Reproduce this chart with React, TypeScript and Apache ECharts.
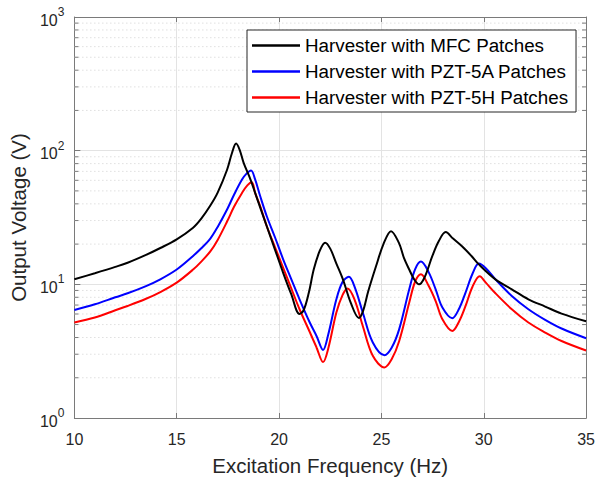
import React, { useEffect, useRef } from "react";
import * as echarts from "echarts";

const seriesNames = [
  "Harvester with MFC Patches",
  "Harvester with PZT-5A Patches",
  "Harvester with PZT-5H Patches",
];

const xTicks = [10, 15, 20, 25, 30, 35];
const minorGridValues = [2, 3, 4, 5, 6, 7, 8, 9, 20, 30, 40, 50, 60, 70, 80, 90, 200, 300, 400, 500, 600, 700, 800, 900];

const mfcFreq = [10, 11, 12, 12.6, 13.5, 14.2, 15, 15.8, 16.2, 16.65, 17.0, 17.46, 17.7, 17.9, 18.07, 18.27, 18.6, 19.0, 19.4, 19.8, 20.2, 20.6, 21.0, 21.2, 21.45, 21.7, 22.0, 22.25, 22.5, 22.8, 23.12, 23.5, 23.9, 24.1, 24.35, 24.74, 25.1, 25.47, 25.85, 26.1, 26.36, 26.6, 26.84, 27.1, 27.49, 27.8, 28.14, 28.5, 28.95, 29.4, 29.76, 30.57, 31.37, 32.18, 33.0, 33.8, 35];
const mfcVolt = [10.9, 12.1, 13.5, 14.5, 16.6, 18.7, 21.7, 26.5, 31, 39, 48.5, 72, 96, 113, 102, 81, 61, 40.7, 27.2, 18.2, 12.2, 8.4, 6.0, 6.4, 8.6, 13, 18, 20.5, 18.5, 14.3, 10.9, 7.3, 5.6, 6.3, 8.8, 13.7, 20, 25, 20.5, 15.8, 12.9, 10.9, 10, 11.2, 16.3, 21, 24.6, 22.0, 19.2, 16.3, 14.1, 10.9, 9.18, 7.73, 6.82, 6.04, 5.3];

const pzt5aFreq = [10, 11, 12, 12.6, 13.5, 14.2, 15, 15.8, 16.2, 16.65, 17.0, 17.46, 17.8, 18.19, 18.4, 18.63, 18.83, 19.08, 19.4, 19.8, 20.2, 20.6, 21.0, 21.5, 21.83, 22.15, 22.4, 22.8, 23.1, 23.41, 23.7, 24.09, 24.58, 25.15, 25.5, 25.87, 26.36, 26.65, 26.93, 27.3, 27.65, 27.98, 28.46, 28.8, 29.11, 29.45, 29.76, 30.1, 30.57, 31.37, 32.18, 33.0, 33.8, 35];
const pzt5aVolt = [6.43, 7.09, 8.0, 8.57, 9.7, 10.9, 12.9, 16.3, 18.6, 22.1, 26.9, 36.3, 46.8, 60.8, 67, 71, 61, 45.6, 32.3, 22.5, 15.4, 10.9, 7.73, 5.18, 4.11, 3.23, 4.2, 7.73, 10.4, 11.4, 9.5, 6.15, 3.67, 2.95, 3.35, 4.62, 9.18, 13, 14.8, 12.4, 9.18, 6.7, 5.58, 6.6, 8.67, 12, 14.3, 13.2, 10.9, 8.18, 6.51, 5.42, 4.67, 3.95];

const pzt5hFreq = [10, 11, 12, 12.6, 13.5, 14.2, 15, 15.8, 16.2, 16.65, 17.0, 17.46, 17.8, 18.19, 18.45, 18.67, 18.83, 19.08, 19.4, 19.8, 20.2, 20.6, 21.0, 21.5, 21.83, 22.15, 22.4, 22.8, 23.1, 23.35, 23.7, 24.09, 24.58, 25.15, 25.5, 25.87, 26.36, 26.65, 26.93, 27.3, 27.65, 27.98, 28.46, 28.8, 29.11, 29.45, 29.8, 30.1, 30.57, 31.37, 32.18, 33.0, 33.8, 35];
const pzt5hVolt = [5.18, 5.64, 6.4, 6.89, 7.8, 8.76, 10.3, 12.9, 14.8, 17.7, 21.5, 29.5, 38, 48.3, 55, 58, 48.3, 38.4, 27.2, 19, 13.3, 9.3, 6.51, 4.4, 3.37, 2.62, 3.3, 6.15, 8.3, 9.3, 7.6, 4.88, 2.92, 2.39, 2.75, 3.77, 7.3, 10.5, 11.9, 9.8, 7.5, 5.48, 4.48, 5.3, 6.89, 9.6, 11.5, 10.3, 8.57, 6.51, 5.18, 4.36, 3.77, 3.2];

const seriesColors = ["#000000", "#0000ff", "#ff0000"];

const zip = (xs: number[], ys: number[]) => xs.map((x, i) => [x, ys[i]]);

const FONT = "'Liberation Sans', Arial, Helvetica, sans-serif";
const AXIS_COLOR = "#7a7a7a";
const TEXT_COLOR = "#262626";

export default function App() {
  const ref = useRef<HTMLDivElement>(null);

  useEffect(() => {
    if (!ref.current) return;
    const chart = echarts.init(ref.current, undefined, { renderer: "svg" });
    const xMin = xTicks[0];
    const xMax = xTicks[xTicks.length - 1];

    const logLabel = (v: number) => {
      const e = Math.round(Math.log10(v));
      return `{b|10}{s|${e}}`;
    };

    const curves = [
      zip(mfcFreq, mfcVolt),
      zip(pzt5aFreq, pzt5aVolt),
      zip(pzt5hFreq, pzt5hVolt),
    ];

    chart.setOption({
      animation: false,
      textStyle: { fontFamily: FONT },
      grid: { left: 73, right: 10, top: 17, bottom: 62, containLabel: false },
      legend: {
        data: seriesNames,
        orient: "vertical",
        left: 247,
        top: 30,
        backgroundColor: "#ffffff",
        borderColor: "#262626",
        borderWidth: 1,
        borderRadius: 0,
        padding: [6, 8, 5, 5],
        itemGap: 7,
        itemWidth: 48,
        itemHeight: 2.5,
        icon: "rect",
        textStyle: { fontSize: 18.8, color: "#000", fontFamily: FONT },
      },
      xAxis: [
        {
          type: "value",
          min: xMin,
          max: xMax,
          interval: 5,
          position: "bottom",
          name: "Excitation Frequency (Hz)",
          nameLocation: "middle",
          nameGap: 37,
          nameTextStyle: { fontSize: 20.5, color: TEXT_COLOR, fontFamily: FONT },
          axisLine: { show: true, lineStyle: { color: AXIS_COLOR, width: 1 } },
          axisTick: { show: true, inside: true, length: 5, lineStyle: { color: AXIS_COLOR } },
          axisLabel: { fontSize: 16, color: TEXT_COLOR, margin: 13, fontFamily: FONT },
          splitLine: { show: true, lineStyle: { color: "#e3e3e3", width: 1 } },
        },
        {
          type: "value",
          min: xMin,
          max: xMax,
          interval: 5,
          position: "top",
          axisLine: { show: true, lineStyle: { color: AXIS_COLOR, width: 1 } },
          axisTick: { show: true, inside: true, length: 5, lineStyle: { color: AXIS_COLOR } },
          axisLabel: { show: false },
          splitLine: { show: false },
        },
      ],
      yAxis: [
        {
          type: "log",
          logBase: 10,
          min: 1,
          max: 1000,
          position: "left",
          name: "Output Voltage (V)",
          nameLocation: "middle",
          nameGap: 44,
          nameTextStyle: { fontSize: 20.5, color: TEXT_COLOR, fontFamily: FONT },
          axisLine: { show: true, lineStyle: { color: AXIS_COLOR, width: 1 } },
          axisTick: { show: true, inside: true, length: 6, lineStyle: { color: AXIS_COLOR } },
          axisLabel: {
            formatter: logLabel,
            margin: 10,
            rich: {
              b: { fontSize: 16, color: TEXT_COLOR, fontFamily: FONT, padding: [6, 0, 0, 0] },
              s: { fontSize: 12, color: TEXT_COLOR, fontFamily: FONT, verticalAlign: "top", padding: [0, 0, 8, 0] },
            },
          },
          splitLine: { show: true, lineStyle: { color: "#e3e3e3", width: 1 } },
        },
        {
          type: "log",
          logBase: 10,
          min: 1,
          max: 1000,
          position: "right",
          axisLine: { show: true, lineStyle: { color: AXIS_COLOR, width: 1 } },
          axisTick: { show: true, inside: true, length: 6, lineStyle: { color: AXIS_COLOR } },
          axisLabel: { show: false },
          splitLine: { show: false },
        },
      ],
      series: [
        {
          type: "custom",
          name: "minorGrid",
          xAxisIndex: 0,
          yAxisIndex: 0,
          silent: true,
          z: 1,
          encode: { x: 0, y: 1 },
          data: minorGridValues.map((v) => [xMin, v]),
          renderItem: (params: any, api: any) => {
            const v = api.value(1);
            const p1 = api.coord([xMin, v]);
            const p2 = api.coord([xMax, v]);
            return {
              type: "group",
              children: [
                {
                  type: "line",
                  shape: { x1: p1[0], y1: p1[1], x2: p2[0], y2: p2[1] },
                  style: { stroke: "#cfcfcf", lineWidth: 1, lineDash: [1, 3] },
                },
                {
                  type: "line",
                  shape: { x1: p1[0], y1: p1[1], x2: p1[0] + 4, y2: p1[1] },
                  style: { stroke: AXIS_COLOR, lineWidth: 1 },
                },
                {
                  type: "line",
                  shape: { x1: p2[0] - 4, y1: p2[1], x2: p2[0], y2: p2[1] },
                  style: { stroke: AXIS_COLOR, lineWidth: 1 },
                },
              ],
            };
          },
        },
        ...seriesNames.map((name, i) => ({
          type: "line",
          name,
          xAxisIndex: 0,
          yAxisIndex: 0,
          data: curves[i],
          smooth: 0.35,
          symbol: "none",
          showSymbol: false,
          z: 3 + (2 - i),
          lineStyle: { color: seriesColors[i], width: 2 },
          itemStyle: { color: seriesColors[i] },
        })),
      ],
    });

    return () => chart.dispose();
  }, []);

  return (
    <div
      ref={ref}
      style={{ position: "fixed", left: 0, top: 0, width: 598, height: 481, background: "#fff" }}
    />
  );
}
